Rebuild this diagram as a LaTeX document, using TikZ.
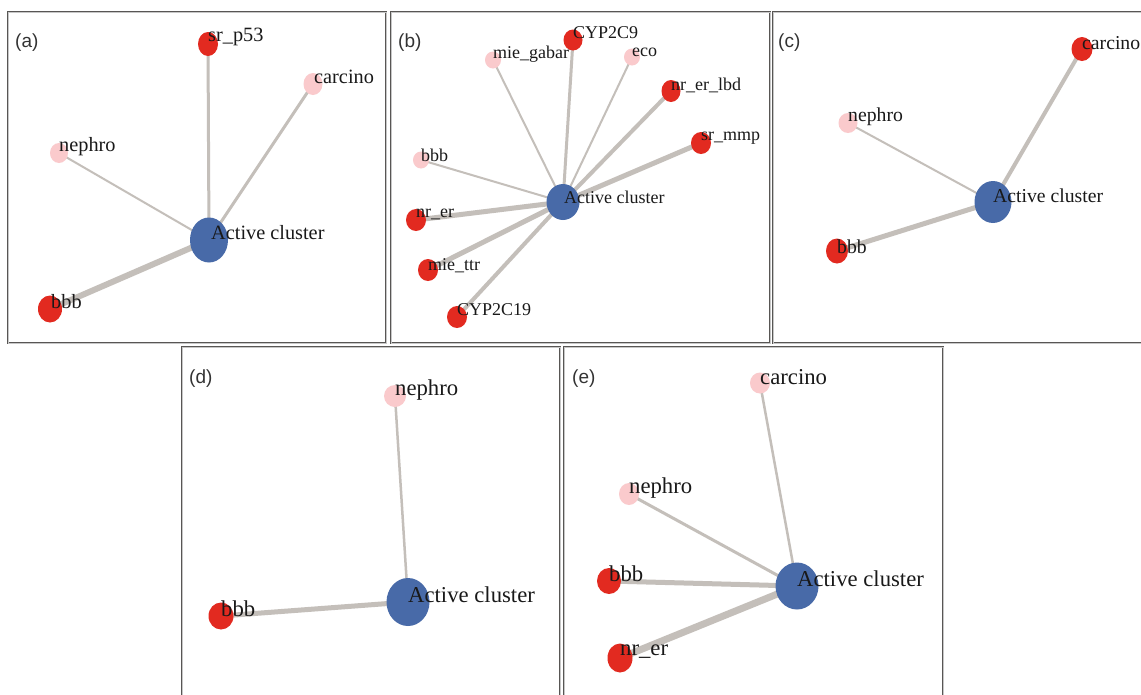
\documentclass[tikz,border=0pt]{standalone}
\usepackage{fontspec}
\setmainfont{Liberation Serif}
\newfontfamily\panelfont{Liberation Sans}
\usetikzlibrary{shapes.geometric}
\definecolor{edgegray}{RGB}{196,191,186}
\definecolor{nodered}{RGB}{226,42,32}
\definecolor{nodepink}{RGB}{250,202,204}
\definecolor{hubblue}{RGB}{72,106,168}
\definecolor{framegray}{RGB}{88,86,84}
\pgfdeclarelayer{bg}
\pgfsetlayers{bg,main}
\newcommand\fsA{\fontsize{20.3}{24}\selectfont}
\newcommand\fsB{\fontsize{18}{22}\selectfont}
\newcommand\fsC{\fontsize{19.7}{23}\selectfont}
\newcommand\fsD{\fontsize{22.7}{27}\selectfont}
\newcommand\fsP{\panelfont\fontsize{19}{23}\selectfont}
\tikzset{
  frame/.style={draw=framegray, line width=0.9pt, double=white!78!black, double distance=0.8pt},
  hub/.style={ellipse, inner sep=0pt, fill=hubblue},
  rednd/.style={ellipse, inner sep=0pt, fill=nodered},
  pinknd/.style={ellipse, inner sep=0pt, fill=nodepink},
  lbl/.style={anchor=west, inner sep=0pt, text=black!90},
  plbl/.style={anchor=west, inner sep=0pt, text=black!80, font=\fsP},
  edge/.style={draw=edgegray, line width=#1},
}
\begin{document}
\begin{tikzpicture}[x=1pt,y=-1pt]
\useasboundingbox (0,0) rectangle (1141,694);
\begin{pgfonlayer}{bg}
\fill[white] (0,0) rectangle (1141,694);
\end{pgfonlayer}
% frames
\draw[frame] (8,12) rectangle (386,343);
\draw[frame] (391,12) rectangle (770,343);
\draw[frame] (773,12) rectangle (1150,343);
\draw[frame] (182,347) rectangle (560,710);
\draw[frame] (564,347) rectangle (943,710);
% panel labels
\node[plbl] (pa) at (15,43) {(a)};
\node[plbl] (pb) at (398,43) {(b)};
\node[plbl] (pc) at (778,43) {(c)};
\node[plbl] (pd) at (189,379) {(d)};
\node[plbl] (pe) at (572,379) {(e)};

% ---------------- panel (a)
\node[hub, minimum width=38pt, minimum height=45pt] (ah) at (209,240) {};
\node[rednd, minimum width=20pt, minimum height=24pt] (ap53) at (208,44) {};
\node[pinknd, minimum width=19pt, minimum height=22pt] (acar) at (313,84) {};
\node[pinknd, minimum width=18pt, minimum height=20pt] (aneph) at (59,153) {};
\node[rednd, minimum width=24pt, minimum height=27pt] (abbb) at (50,309) {};
\begin{pgfonlayer}{bg}
\draw[edge=3pt] (ah.center) -- (ap53.center);
\draw[edge=3pt] (ah.center) -- (acar.center);
\draw[edge=2pt] (ah.center) -- (aneph.center);
\draw[edge=6pt] (ah.center) -- (abbb.center);
\end{pgfonlayer}
\node[lbl, font=\fsA] (ah-l) at (211,233) {Active cluster};
\node[lbl, font=\fsA] (ap53-l) at (208,37) {sr\_p53};
\node[lbl, font=\fsA] (acar-l) at (314,77) {carcino};
\node[lbl, font=\fsA] (aneph-l) at (59,147) {nephro};
\node[lbl, font=\fsA] (abbb-l) at (51,302) {bbb};

% ---------------- panel (b)
\node[hub, minimum width=33pt, minimum height=36pt] (bh) at (563,202) {};
\node[rednd, minimum width=19pt, minimum height=21pt] (bc9) at (573,40) {};
\node[pinknd, minimum width=16pt, minimum height=17pt] (bgab) at (493,60) {};
\node[pinknd, minimum width=16pt, minimum height=17pt] (beco) at (632,57) {};
\node[rednd, minimum width=19pt, minimum height=22pt] (blbd) at (671,91) {};
\node[rednd, minimum width=20pt, minimum height=22pt] (bmmp) at (701,143) {};
\node[pinknd, minimum width=16pt, minimum height=17pt] (bbbb) at (421,160) {};
\node[rednd, minimum width=20pt, minimum height=22pt] (bner) at (416,220) {};
\node[rednd, minimum width=20pt, minimum height=22pt] (bttr) at (428,270) {};
\node[rednd, minimum width=20pt, minimum height=22pt] (bc19) at (457,317) {};
\begin{pgfonlayer}{bg}
\draw[edge=3pt] (bh.center) -- (bc9.center);
\draw[edge=2pt] (bh.center) -- (bgab.center);
\draw[edge=2pt] (bh.center) -- (beco.center);
\draw[edge=4pt] (bh.center) -- (blbd.center);
\draw[edge=5pt] (bh.center) -- (bmmp.center);
\draw[edge=2pt] (bh.center) -- (bbbb.center);
\draw[edge=5pt] (bh.center) -- (bner.center);
\draw[edge=5pt] (bh.center) -- (bttr.center);
\draw[edge=4pt] (bh.center) -- (bc19.center);
\end{pgfonlayer}
\node[lbl, font=\fsB] (bh-l) at (564,197) {Active cluster};
\node[lbl, font=\fsB] (bc9-l) at (573,33) {CYP2C9};
\node[lbl, font=\fsB] (bgab-l) at (493,54) {mie\_gabar};
\node[lbl, font=\fsB] (beco-l) at (632,52) {eco};
\node[lbl, font=\fsB] (blbd-l) at (671,85) {nr\_er\_lbd};
\node[lbl, font=\fsB] (bmmp-l) at (701,138) {sr\_mmp};
\node[lbl, font=\fsB] (bbbb-l) at (421,155) {bbb};
\node[lbl, font=\fsB] (bner-l) at (416,214) {nr\_er};
\node[lbl, font=\fsB] (bttr-l) at (428,266) {mie\_ttr};
\node[lbl, font=\fsB] (bc19-l) at (457,310) {CYP2C19};

% ---------------- panel (c)
\node[hub, minimum width=37pt, minimum height=42pt] (ch) at (993,202) {};
\node[rednd, minimum width=21pt, minimum height=24pt] (ccar) at (1082,49) {};
\node[pinknd, minimum width=19pt, minimum height=20pt] (cneph) at (848,123) {};
\node[rednd, minimum width=22pt, minimum height=25pt] (cbbb) at (837,251) {};
\begin{pgfonlayer}{bg}
\draw[edge=4pt] (ch.center) -- (ccar.center);
\draw[edge=2pt] (ch.center) -- (cneph.center);
\draw[edge=5pt] (ch.center) -- (cbbb.center);
\end{pgfonlayer}
\node[lbl, font=\fsC] (ch-l) at (993,196) {Active cluster};
\node[lbl, font=\fsC] (ccar-l) at (1082,43) {carcino};
\node[lbl, font=\fsC] (cneph-l) at (848,117) {nephro};
\node[lbl, font=\fsC] (cbbb-l) at (837,247) {bbb};

% ---------------- panel (d)
\node[hub, minimum width=43pt, minimum height=48pt] (dh) at (408,602) {};
\node[pinknd, minimum width=22pt, minimum height=22pt] (dneph) at (395,396) {};
\node[rednd, minimum width=25pt, minimum height=27pt] (dbbb) at (221,616) {};
\begin{pgfonlayer}{bg}
\draw[edge=2.5pt] (dh.center) -- (dneph.center);
\draw[edge=5pt] (dh.center) -- (dbbb.center);
\end{pgfonlayer}
\node[lbl, font=\fsD] (dh-l) at (408,595) {Active cluster};
\node[lbl, font=\fsD] (dneph-l) at (395,390) {nephro};
\node[lbl, font=\fsD] (dbbb-l) at (221,609) {bbb};

% ---------------- panel (e)
\node[hub, minimum width=43pt, minimum height=47pt] (eh) at (797,586) {};
\node[pinknd, minimum width=20pt, minimum height=21pt] (ecar) at (760,383) {};
\node[pinknd, minimum width=20pt, minimum height=22pt] (eneph) at (629,494) {};
\node[rednd, minimum width=24pt, minimum height=26pt] (ebbb) at (609,581) {};
\node[rednd, minimum width=25pt, minimum height=29pt] (ener) at (620,658) {};
\begin{pgfonlayer}{bg}
\draw[edge=2.5pt] (eh.center) -- (ecar.center);
\draw[edge=3pt] (eh.center) -- (eneph.center);
\draw[edge=5pt] (eh.center) -- (ebbb.center);
\draw[edge=7pt] (eh.center) -- (ener.center);
\end{pgfonlayer}
\node[lbl, font=\fsD] (eh-l) at (797,579) {Active cluster};
\node[lbl, font=\fsD] (ecar-l) at (760,377) {carcino};
\node[lbl, font=\fsD] (eneph-l) at (629,488) {nephro};
\node[lbl, font=\fsD] (ebbb-l) at (609,574) {bbb};
\node[lbl, font=\fsD] (ener-l) at (620,652) {nr\_er};
\end{tikzpicture}
\end{document}
